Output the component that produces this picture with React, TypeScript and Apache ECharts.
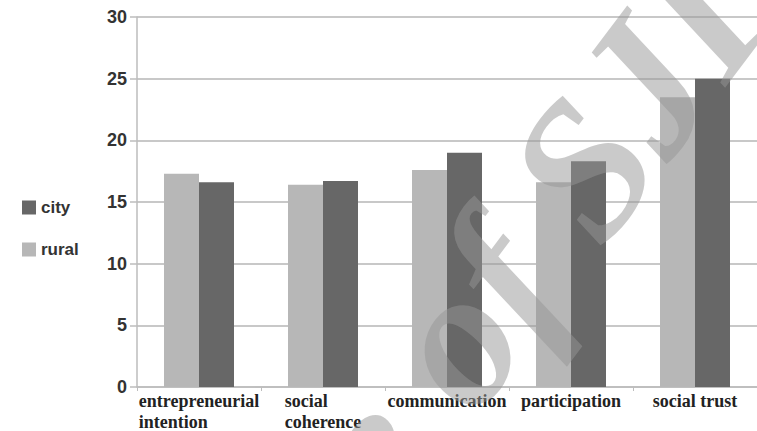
import React, { useEffect, useRef } from "react";
import * as echarts from "echarts";

const categories = [
  "entrepreneurial\nintention",
  "social\ncoherence",
  "communication",
  "participation",
  "social trust",
];
const ruralValues = [17.3, 16.4, 17.6, 16.6, 23.5];
const cityValues = [16.6, 16.7, 19.0, 18.3, 25.0];
const yTicks = { min: 0, max: 30, interval: 5 };
const watermark = "e of SJIE";

export default function App() {
  const ref = useRef<HTMLDivElement>(null);
  useEffect(() => {
    if (!ref.current) return;
    const chart = echarts.init(ref.current, undefined, { renderer: "svg" });
    chart.setOption({
      animation: false,
      backgroundColor: "#ffffff",
      legend: {
        orient: "vertical",
        left: 17,
        top: 194,
        itemWidth: 14,
        itemHeight: 14,
        itemGap: 25,
        icon: "rect",
        data: ["city", "rural"],
        textStyle: {
          fontFamily: "Liberation Sans, Arial, sans-serif",
          fontWeight: "bold",
          fontSize: 17,
          color: "#333",
        },
      },
      grid: { left: 137, top: 17, width: 626, height: 370, containLabel: false },
      xAxis: {
        type: "category",
        data: categories,
        axisLine: { show: true, lineStyle: { color: "#bdbdbd", width: 1.5 } },
        axisTick: { show: true, length: 4, lineStyle: { color: "#bdbdbd" } },
        axisLabel: {
          interval: 0,
          margin: 3,
          formatter: (v: string) =>
            v
              .split("\n")
              .map((s) => `{a|${s}}`)
              .join("\n"),
          rich: {
            a: {
              fontFamily: "Liberation Serif, Times New Roman, serif",
              fontWeight: "bold",
              fontSize: 18,
              lineHeight: 21,
              color: "#222",
              align: "left",
            },
          },
        },
      },
      yAxis: {
        type: "value",
        min: yTicks.min,
        max: yTicks.max,
        interval: yTicks.interval,
        axisLine: { show: true, lineStyle: { color: "#bdbdbd", width: 1.5 } },
        axisTick: { show: true, length: 7, lineStyle: { color: "#bdbdbd", width: 1.5 } },
        splitLine: { show: true, lineStyle: { color: "#c8c8c8", width: 2 } },
        axisLabel: {
          margin: 10,
          fontFamily: "Liberation Sans, Arial, sans-serif",
          fontWeight: "bold",
          fontSize: 18,
          color: "#333",
        },
      },
      series: [
        {
          name: "rural",
          type: "bar",
          data: ruralValues,
          barWidth: 35,
          barGap: "0%",
          itemStyle: { color: "#b7b7b7" },
        },
        {
          name: "city",
          type: "bar",
          data: cityValues,
          barWidth: 35,
          barGap: "0%",
          itemStyle: { color: "#676767" },
        },
      ],
      graphic: [
        {
          type: "text",
          x: 341,
          y: 488,
          rotation: (53 * Math.PI) / 180,
          z: 100,
          silent: true,
          style: {
            text: watermark,
            fontFamily: "Liberation Serif, Times New Roman, serif",
            fontStyle: "italic",
            fontWeight: "bold",
            fontSize: 195,
            fill: "rgba(150,150,150,0.5)",
            textAlign: "left",
            textVerticalAlign: "middle",
          },
        },
      ],
    });
    return () => chart.dispose();
  }, []);
  return (
    <div
      ref={ref}
      style={{ position: "fixed", left: 0, top: 0, width: 757, height: 431, background: "#fff" }}
    />
  );
}
